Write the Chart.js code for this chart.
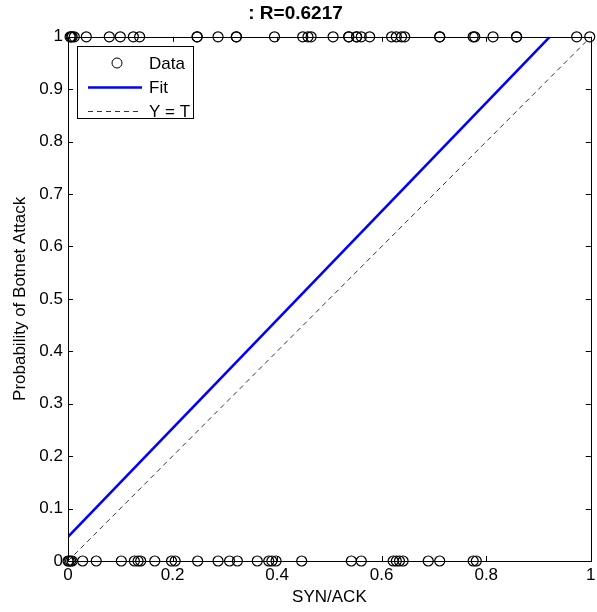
<!DOCTYPE html>
<html>
<head>
<meta charset="UTF-8">
<title>Botnet attack fit</title>
<script src="https://cdn.jsdelivr.net/npm/chart.js"></script>
<style>
    body { margin: 0; background: #fff; }
    .wrap { width: 597px; height: 612px; position: relative; }
</style>
</head>
<body>
<div class="wrap"><canvas id="myChart"></canvas></div>
<script>
    // observations where the attack happened (T = 1)
    const attackX = [0.004, 0.006, 0.008, 0.012, 0.035, 0.079, 0.1, 0.125, 0.137, 0.247, 0.247, 0.287, 0.322, 0.322,
        0.395, 0.449, 0.459, 0.465, 0.507, 0.537, 0.537, 0.552, 0.552, 0.561, 0.577, 0.619, 0.628, 0.638, 0.644,
        0.711, 0.711, 0.775, 0.778, 0.813, 0.858, 0.858, 0.973, 0.998];
    // observations without attack (T = 0)
    const normalX = [0, 0.002, 0.005, 0.008, 0.028, 0.054, 0.102, 0.127, 0.134, 0.139, 0.166, 0.198, 0.205, 0.248,
        0.287, 0.309, 0.324, 0.362, 0.384, 0.39, 0.398, 0.447, 0.542, 0.561, 0.622, 0.628, 0.634, 0.641,
        0.689, 0.711, 0.775, 0.781];
    const fitX = [0, 0.9215];
    const fitY = [0.046, 1];
    const refX = [0, 1];
    const refY = [0, 1];
    const xTicks = [0, 0.2, 0.4, 0.6, 0.8, 1];
    const yTicks = [0, 0.1, 0.2, 0.3, 0.4, 0.5, 0.6, 0.7, 0.8, 0.9, 1];
    const legendLabels = ['Data', 'Fit', 'Y = T'];

    const FONT = 'Liberation Sans, Arial, sans-serif';

    const points = attackX.map(x => ({x: x, y: 1})).concat(normalX.map(x => ({x: x, y: 0})));
    const fmt = v => String(Number(v.toFixed(1)));

    // box, inward ticks and the legend, MATLAB style
    const frame = {
        id: 'frame',
        afterDatasetsDraw(chart) {
            const ctx = chart.ctx;
            const a = chart.chartArea;
            const xs = chart.scales.x, ys = chart.scales.y;
            ctx.save();
            ctx.strokeStyle = '#000';
            ctx.lineWidth = 1;
            ctx.strokeRect(Math.round(a.left) + 0.5, Math.round(a.top) + 0.5,
                Math.round(a.right - a.left), Math.round(a.bottom - a.top));
            ctx.beginPath();
            xTicks.forEach(v => {
                const px = Math.round(xs.getPixelForValue(v)) + 0.5;
                ctx.moveTo(px, a.bottom); ctx.lineTo(px, a.bottom - 5);
                ctx.moveTo(px, a.top); ctx.lineTo(px, a.top + 5);
            });
            yTicks.forEach(v => {
                const py = Math.round(ys.getPixelForValue(v)) + 0.5;
                ctx.moveTo(a.left, py); ctx.lineTo(a.left + 5, py);
                ctx.moveTo(a.right, py); ctx.lineTo(a.right - 5, py);
            });
            ctx.stroke();

            // legend
            const lx = 77, ly = 46, lw = 116, lh = 72;
            ctx.fillStyle = '#fff';
            ctx.fillRect(lx, ly, lw, lh);
            ctx.strokeRect(lx + 0.5, ly + 0.5, lw, lh);
            const rows = [63, 87.5, 111];
            ctx.beginPath();
            ctx.arc(117, rows[0], 5, 0, Math.PI * 2);
            ctx.stroke();
            ctx.strokeStyle = '#0000ff';
            ctx.lineWidth = 2.5;
            ctx.beginPath();
            ctx.moveTo(88, rows[1]); ctx.lineTo(142, rows[1]);
            ctx.stroke();
            ctx.strokeStyle = '#333';
            ctx.lineWidth = 1;
            ctx.setLineDash([5, 4]);
            ctx.beginPath();
            ctx.moveTo(88, rows[2] + 0.5); ctx.lineTo(142, rows[2] + 0.5);
            ctx.stroke();
            ctx.setLineDash([]);
            ctx.fillStyle = '#000';
            ctx.font = '17px ' + FONT;
            ctx.textBaseline = 'middle';
            legendLabels.forEach((t, i) => ctx.fillText(t, 149, rows[i] + 1));
            ctx.restore();
        }
    };

    const ctx = document.getElementById('myChart').getContext('2d');
    const chart = new Chart(ctx, {
        type: 'scatter',
        data: {
            datasets: [{
                label: 'Y = T',
                data: refX.map((x, i) => ({x: x, y: refY[i]})),
                showLine: true,
                borderColor: '#333',
                borderWidth: 1,
                borderDash: [5, 4],
                pointRadius: 0
            }, {
                label: 'Fit',
                data: fitX.map((x, i) => ({x: x, y: fitY[i]})),
                showLine: true,
                borderColor: '#0000ff',
                borderWidth: 2.5,
                pointRadius: 0
            }, {
                label: 'Data',
                data: points,
                showLine: false,
                pointStyle: 'circle',
                pointRadius: 5,
                backgroundColor: 'rgba(0,0,0,0)',
                borderColor: '#000',
                borderWidth: 1.2,
                clip: false
            }]
        },
        options: {
            responsive: true,
            maintainAspectRatio: false,
            animation: false,
            layout: { padding: { left: 0, right: 6, top: 0, bottom: 0 } },
            scales: {
                x: {
                    type: 'linear',
                    min: 0,
                    max: 1,
                    afterFit: s => { s.height = 51; s.paddingLeft = 0; s.paddingRight = 0; },
                    afterBuildTicks: s => { s.ticks = xTicks.map(v => ({value: v})); },
                    grid: { display: false, drawTicks: false },
                    border: { display: false },
                    ticks: { color: '#000', font: { family: FONT, size: 17 }, padding: 4, maxRotation: 0, callback: fmt },
                    title: { display: true, text: 'SYN/ACK', color: '#000', font: { family: FONT, size: 17 }, padding: { top: 0, bottom: 4 } }
                },
                y: {
                    type: 'linear',
                    min: 0,
                    max: 1,
                    afterFit: s => { s.width = 68; s.paddingTop = 0; s.paddingBottom = 0; },
                    afterBuildTicks: s => { s.ticks = yTicks.map(v => ({value: v})); },
                    grid: { display: false, drawTicks: false },
                    border: { display: false },
                    ticks: { color: '#000', font: { family: FONT, size: 17 }, padding: 5, callback: fmt },
                    title: { display: true, text: 'Probability of Botnet Attack', color: '#000', font: { family: FONT, size: 17 }, padding: { top: 10, bottom: 0 } }
                }
            },
            plugins: {
                legend: { display: false },
                tooltip: { enabled: false },
                title: {
                    display: true,
                    text: ': R=0.6217',
                    color: '#000',
                    font: { family: FONT, size: 19, weight: 'bold' },
                    padding: { top: 2, bottom: 12 }
                }
            }
        },
        plugins: [frame]
    });
</script>
</body>
</html>
